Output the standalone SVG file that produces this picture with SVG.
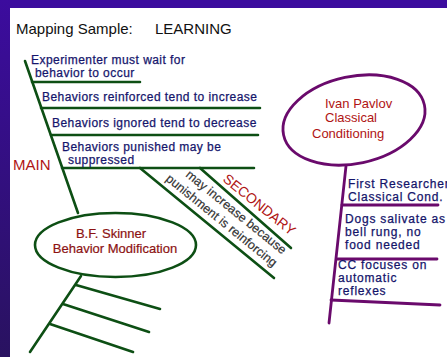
<svg xmlns="http://www.w3.org/2000/svg" width="447" height="357" viewBox="0 0 447 357">
<defs>
<linearGradient id="band" x1="0" y1="0" x2="0" y2="1">
<stop offset="0" stop-color="#3c0c9e"/>
<stop offset="1" stop-color="#291260"/>
</linearGradient>
</defs>
<style>
.g{stroke:#0d4f14;stroke-width:2.6;fill:none;stroke-linecap:round}
.p{stroke:#6a0a6c;stroke-width:2.8;fill:none;stroke-linecap:round}
.t{font-family:"Liberation Sans",Arial,sans-serif}
.nv{fill:#16166c;stroke:#16166c;stroke-width:0.25;font-size:12px;letter-spacing:0.45px}
.rv{fill:#14146a;stroke:#14146a;stroke-width:0.25;font-size:12px;letter-spacing:0.8px}
.dr{fill:#8c1212;stroke:#8c1212;stroke-width:0.2;font-size:13px}
.rd{fill:#b01414}
.gr{fill:#333333;stroke:#333333;stroke-width:0.2;font-size:12.5px}
</style>
<rect x="0" y="0" width="447" height="357" fill="#ffffff"/>
<rect x="0" y="0" width="447" height="8" fill="#3c0c9e"/>
<rect x="0" y="0" width="10" height="357" fill="url(#band)"/>

<g id="title"><text class="t" x="16" y="34" font-size="15" fill="#111111">Mapping Sample:<tspan x="155">LEARNING</tspan></text></g>

<g id="connectors">
<path class="g" d="M25 61 L78 213"/>
<path class="g" d="M32 82 H140 M41 108 H260 M51 135 H258 M62 168 H254"/>
<path class="g" d="M140 168 L274 278 M200 168 L291 248"/>
<path class="g" d="M81 276 L30 352 M76 285 L160 309 M63 304 L149 332 M50 324 L133 352"/>
<path class="p" d="M346 166 L329 323"/>
<path class="p" d="M342 205 L438 205 M337 259 L437 259 M331 300 L440 305"/>
</g>

<g id="main-branches">
<text class="t nv" x="31" y="64">Experimenter must wait for</text>
<text class="t nv" x="35" y="77">behavior to occur</text>
<text class="t nv" x="42" y="101">Behaviors reinforced tend to increase</text>
<text class="t nv" x="52" y="127">Behaviors ignored tend to decrease</text>
<text class="t nv" x="62" y="151">Behaviors punished may be</text>
<text class="t nv" x="68" y="164">suppressed</text>
</g>

<g id="main-label"><text class="t rd" x="13" y="170" font-size="15">MAIN</text></g>

<g id="secondary">
<text class="t rd" x="222" y="180.5" font-size="14" transform="rotate(39 222 180.5)">SECONDARY</text>
<text class="t gr" x="185" y="176" transform="rotate(39 185 176)">may increase because</text>
<text class="t gr" x="165" y="180" transform="rotate(39 165 180)">punishment is reinforcing</text>
</g>

<g id="skinner">
<ellipse class="g" cx="115.5" cy="245" rx="80.5" ry="32" stroke-width="2.8"/>
<text class="t dr" x="111" y="238" text-anchor="middle">B.F. Skinner</text>
<text class="t dr" x="115" y="253" text-anchor="middle">Behavior Modification</text>
</g>

<g id="pavlov">
<ellipse class="p" cx="354" cy="120" rx="72" ry="43.5" transform="rotate(-12 354 120)"/>
<text class="t rd" x="325" y="108" font-size="13">Ivan Pavlov</text>
<text class="t rd" x="325" y="122" font-size="13">Classical</text>
<text class="t rd" x="312" y="138" font-size="13">Conditioning</text>
</g>

<g id="pavlov-branches">
<text class="t rv" x="348" y="188">First Researcher</text>
<text class="t rv" x="348" y="201">Classical Cond.</text>
<text class="t rv" x="345" y="223">Dogs salivate as</text>
<text class="t rv" x="345" y="236">bell rung, no</text>
<text class="t rv" x="345" y="249">food needed</text>
<text class="t rv" x="338" y="269">CC focuses on</text>
<text class="t rv" x="338" y="282">automatic</text>
<text class="t rv" x="338" y="295">reflexes</text>
</g>
</svg>
